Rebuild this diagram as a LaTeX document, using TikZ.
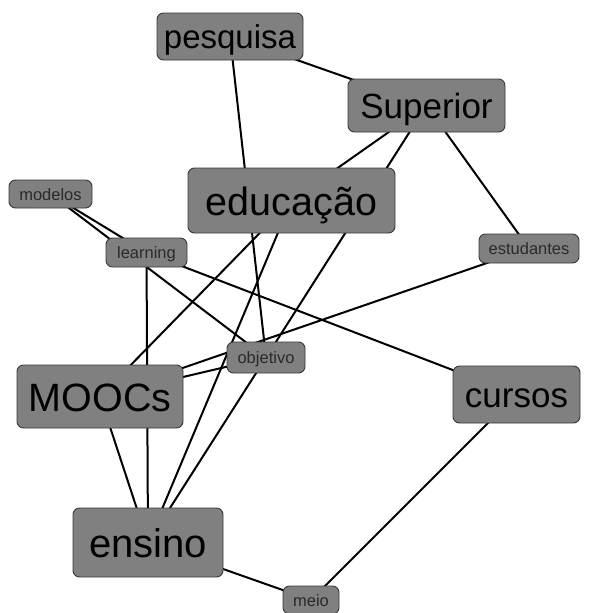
\documentclass[tikz,border=0pt]{standalone}
\usepackage{fontspec}
\setmainfont{Liberation Sans}
\usetikzlibrary{backgrounds}
\definecolor{boxfill}{HTML}{808080}
\definecolor{boxline}{HTML}{383838}
\definecolor{smalltext}{HTML}{2A2A2A}
\tikzset{
  term/.style={draw=boxline, line width=0.9pt, fill=boxfill, rounded corners=6.5pt,
    inner sep=0pt, text=black, align=center},
  fsz/.style={font=\fontsize{#1pt}{#1pt}\selectfont, text height=0.74*#1pt, text depth=0pt},
  small/.style={fsz=16.5, text=smalltext},
  link/.style={line width=2pt, draw=black},
}
\begin{document}
\begin{tikzpicture}[x=1pt,y=-1pt]
\useasboundingbox (0,0) rectangle (606,613);
\node[term, fsz=33, minimum width=146pt, minimum height=47pt] (pesquisa) at (230,36.5) {pesquisa};
\node[term, fsz=35, minimum width=157pt, minimum height=53pt] (superior) at (426.5,105.5) {Superior};
\node[term, fsz=39.5, minimum width=207pt, minimum height=65pt] (educacao) at (291.5,200.5) {educação};
\node[term, small, minimum width=83pt, minimum height=28pt] (modelos) at (50.5,194) {modelos};
\node[term, small, minimum width=81pt, minimum height=29pt] (learning) at (146.5,252.5) {learning};
\node[term, small, minimum width=100pt, minimum height=29pt] (estudantes) at (529,248.5) {estudantes};
\node[term, small, minimum width=78pt, minimum height=31pt] (objetivo) at (266,357.5) {objetivo};
\node[term, fsz=39.5, minimum width=166pt, minimum height=63pt] (moocs) at (100,396.5) {MOOCs};
\node[term, fsz=35, minimum width=127pt, minimum height=57pt] (cursos) at (516.5,394.5) {cursos};
\node[term, fsz=40, minimum width=150pt, minimum height=69pt] (ensino) at (148,542.5) {ensino};
\node[term, small, minimum width=56pt, minimum height=28pt] (meio) at (311,600) {meio};
\begin{pgfonlayer}{background}
\draw[link] (pesquisa.center) -- (superior.center);
\draw[link] (pesquisa.center) -- (objetivo.center);
\draw[link] (superior.center) -- (educacao.center);
\draw[link] (superior.center) -- (objetivo.center);
\draw[link] (superior.center) -- (estudantes.center);
\draw[link] (educacao.center) -- (moocs.center);
\draw[link] (educacao.center) -- (ensino.center);
\draw[link] (modelos.center) -- (learning.center);
\draw[link] (modelos.center) -- (objetivo.center);
\draw[link] (learning.center) -- (cursos.center);
\draw[link] (learning.center) -- (ensino.center);
\draw[link] (estudantes.center) -- (moocs.center);
\draw[link] (moocs.center) -- (objetivo.center);
\draw[link] (moocs.center) -- (ensino.center);
\draw[link] (objetivo.center) -- (ensino.center);
\draw[link] (cursos.center) -- (meio.center);
\draw[link] (ensino.center) -- (meio.center);
\end{pgfonlayer}
\end{tikzpicture}
\end{document}
